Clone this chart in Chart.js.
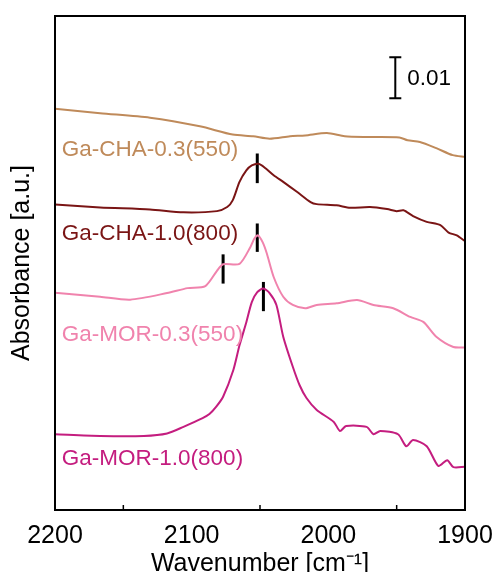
<!DOCTYPE html>
<html>
<head>
<meta charset="utf-8">
<script src="https://cdn.jsdelivr.net/npm/chart.js@4.4.0/dist/chart.umd.min.js"></script>
<style>
  html, body { margin: 0; padding: 0; background: #fff; }
  #wrap { width: 494px; height: 572px; }
</style>
</head>
<body>
<div id="wrap"><canvas id="myChart" width="494" height="572"></canvas></div>
<script>
// spectra: wavenumber [cm-1] and absorbance
const chaLowWn = [2200, 2167, 2130.5, 2094, 2070, 2055, 2043, 2028, 2017, 2001, 1988, 1972, 1948, 1942, 1933, 1921, 1909, 1900];
const chaLowAbs = [0.0975, 0.0964, 0.0953, 0.0932, 0.0912, 0.0908, 0.0902, 0.0908, 0.0910, 0.0916, 0.0908, 0.0906, 0.0905, 0.0898, 0.0894, 0.0879, 0.0862, 0.0858];

const chaHighWn = [2200, 2167, 2130.5, 2106, 2081.5, 2074, 2070, 2065, 2060, 2056, 2051, 2046, 2040, 2033, 2023, 2013, 2008.5, 1994, 1984, 1969.5, 1957, 1950, 1945, 1938, 1928, 1918, 1912, 1906, 1900];
const chaHighAbs = [0.0742, 0.0735, 0.0730, 0.0723, 0.0726, 0.0736, 0.0752, 0.0797, 0.0825, 0.0837, 0.0841, 0.0830, 0.0813, 0.0797, 0.0773, 0.0748, 0.0743, 0.0740, 0.0734, 0.0736, 0.0731, 0.0726, 0.0728, 0.0714, 0.0700, 0.0692, 0.0674, 0.0667, 0.0653];

const morLowWn = [2200, 2167, 2145, 2118, 2103, 2090, 2081.5, 2077, 2065, 2057, 2054, 2051.5, 2048, 2045, 2040, 2033, 2026, 2017, 2008.5, 1994, 1979, 1967, 1952.5, 1940, 1930.5, 1921, 1908.5, 1900];
const morLowAbs = [0.0528, 0.0518, 0.0511, 0.0527, 0.0539, 0.0544, 0.0581, 0.0597, 0.0598, 0.0639, 0.0660, 0.0667, 0.0650, 0.0623, 0.0566, 0.0518, 0.0498, 0.0490, 0.0498, 0.0502, 0.0510, 0.0498, 0.0490, 0.0469, 0.0457, 0.0421, 0.0396, 0.0395];

const morHighWn = [2200, 2167, 2135, 2118, 2106, 2092, 2087, 2082, 2077, 2069.5, 2065, 2060, 2056, 2052, 2047.6, 2043, 2038, 2033, 2026, 2021, 2016, 2008.5, 1996, 1991.5, 1987, 1972, 1967, 1962, 1949, 1943, 1938, 1928, 1919.5, 1913, 1908.5, 1900];
const morHighAbs = [0.0184, 0.0180, 0.0180, 0.0186, 0.0202, 0.0223, 0.0233, 0.0251, 0.0275, 0.0340, 0.0400, 0.0456, 0.0505, 0.0529, 0.0538, 0.0527, 0.0498, 0.0421, 0.0348, 0.0303, 0.0272, 0.0243, 0.0214, 0.0192, 0.0204, 0.0202, 0.0184, 0.0192, 0.0184, 0.0155, 0.0170, 0.0155, 0.0107, 0.0121, 0.0104, 0.0105];

const seriesNames = ['Ga-CHA-0.3(550)', 'Ga-CHA-1.0(800)', 'Ga-MOR-0.3(550)', 'Ga-MOR-1.0(800)'];
const seriesColors = ['#bf8a5a', '#7a1515', '#f083ad', '#c41d7f'];

// peak markers: wavenumber, lower and upper absorbance
const markWn = [2052, 2052, 2077, 2047.5];
const markLow = [0.0794, 0.0627, 0.0550, 0.0483];
const markHigh = [0.0866, 0.0696, 0.0621, 0.0554];

// scale bar 0.01
const barWn = 1951;
const barLow = 0.100;
const barHigh = 0.110;

const xTicks = [2200, 2100, 2000, 1900];
const minorTicks = [2150, 2050, 1950];

// label anchors (wavenumber, absorbance)
const labelWn = [2195, 2195, 2195, 2195];
const labelAbs = [0.0874, 0.0672, 0.0425, 0.0124];

const FONT = "'Liberation Sans', Arial, sans-serif";

function toXY(xs, ys) {
  return xs.map((x, i) => ({x: x, y: ys[i]}));
}

const datasets = [
  {data: toXY(chaLowWn, chaLowAbs), borderColor: seriesColors[0]},
  {data: toXY(chaHighWn, chaHighAbs), borderColor: seriesColors[1]},
  {data: toXY(morLowWn, morLowAbs), borderColor: seriesColors[2]},
  {data: toXY(morHighWn, morHighAbs), borderColor: seriesColors[3]}
].map(d => Object.assign(d, {borderWidth: 2, pointRadius: 0, tension: 0.25}));

markWn.forEach((w, i) => {
  datasets.push({
    data: [{x: w, y: markLow[i]}, {x: w, y: markHigh[i]}],
    borderColor: '#000', borderWidth: 3, pointRadius: 0, borderCapStyle: 'butt'
  });
});

const extras = {
  id: 'extras',
  afterDatasetsDraw(chart) {
    const ctx = chart.ctx;
    const xs = chart.scales.x, ys = chart.scales.y;
    const a = chart.chartArea;
    ctx.save();
    // box
    ctx.strokeStyle = '#000';
    ctx.lineWidth = 2;
    ctx.strokeRect(a.left, a.top, a.right - a.left, a.bottom - a.top);
    // inward minor ticks
    ctx.lineWidth = 1.5;
    minorTicks.forEach(t => {
      const px = xs.getPixelForValue(t);
      ctx.beginPath();
      ctx.moveTo(px, a.bottom);
      ctx.lineTo(px, a.bottom - 5);
      ctx.stroke();
    });
    // scale bar
    const bx = xs.getPixelForValue(barWn);
    const by1 = ys.getPixelForValue(barHigh);
    const by2 = ys.getPixelForValue(barLow);
    ctx.lineWidth = 2;
    ctx.beginPath();
    ctx.moveTo(bx, by1); ctx.lineTo(bx, by2);
    ctx.moveTo(bx - 6, by1); ctx.lineTo(bx + 6, by1);
    ctx.moveTo(bx - 6, by2); ctx.lineTo(bx + 6, by2);
    ctx.stroke();
    ctx.fillStyle = '#000';
    ctx.font = '22.5px ' + FONT;
    ctx.textBaseline = 'middle';
    ctx.textAlign = 'left';
    ctx.fillText('0.01', bx + 12, (by1 + by2) / 2 + 1);
    // series labels
    seriesNames.forEach((name, i) => {
      ctx.fillStyle = seriesColors[i];
      ctx.fillText(name, xs.getPixelForValue(labelWn[i]), ys.getPixelForValue(labelAbs[i]));
    });
    ctx.restore();
  }
};

const ctx = document.getElementById('myChart').getContext('2d');
const myChart = new Chart(ctx, {
  type: 'line',
  data: {datasets: datasets},
  options: {
    responsive: false,
    animation: false,
    layout: {padding: {top: 16, right: 29, left: 0, bottom: 0}},
    plugins: {legend: {display: false}, tooltip: {enabled: false}},
    scales: {
      x: {
        type: 'linear',
        reverse: true,
        min: 1900,
        max: 2200,
        afterBuildTicks: s => { s.ticks = xTicks.map(v => ({value: v})); },
        afterFit: s => { s.height = 62; s.paddingLeft = 0; s.paddingRight = 0; },
        grid: {display: false},
        border: {display: false},
        ticks: {color: '#000', padding: 3, font: {family: FONT, size: 25}, maxRotation: 0,
                callback: v => String(v)},
        title: {display: true, text: 'Wavenumber [cm\u207B\u00B9]', color: '#000',
                font: {family: FONT, size: 25, lineHeight: 1}, padding: {top: 0, bottom: -5}}
      },
      y: {
        min: 0,
        max: 0.12,
        afterFit: s => { s.width = 55; },
        grid: {display: false},
        border: {display: false},
        ticks: {display: false},
        title: {display: true, text: 'Absorbance [a.u.]', color: '#000',
                font: {family: FONT, size: 25, lineHeight: 1}, padding: {top: 10, bottom: 0}}
      }
    }
  },
  plugins: [extras]
});
</script>
</body>
</html>
